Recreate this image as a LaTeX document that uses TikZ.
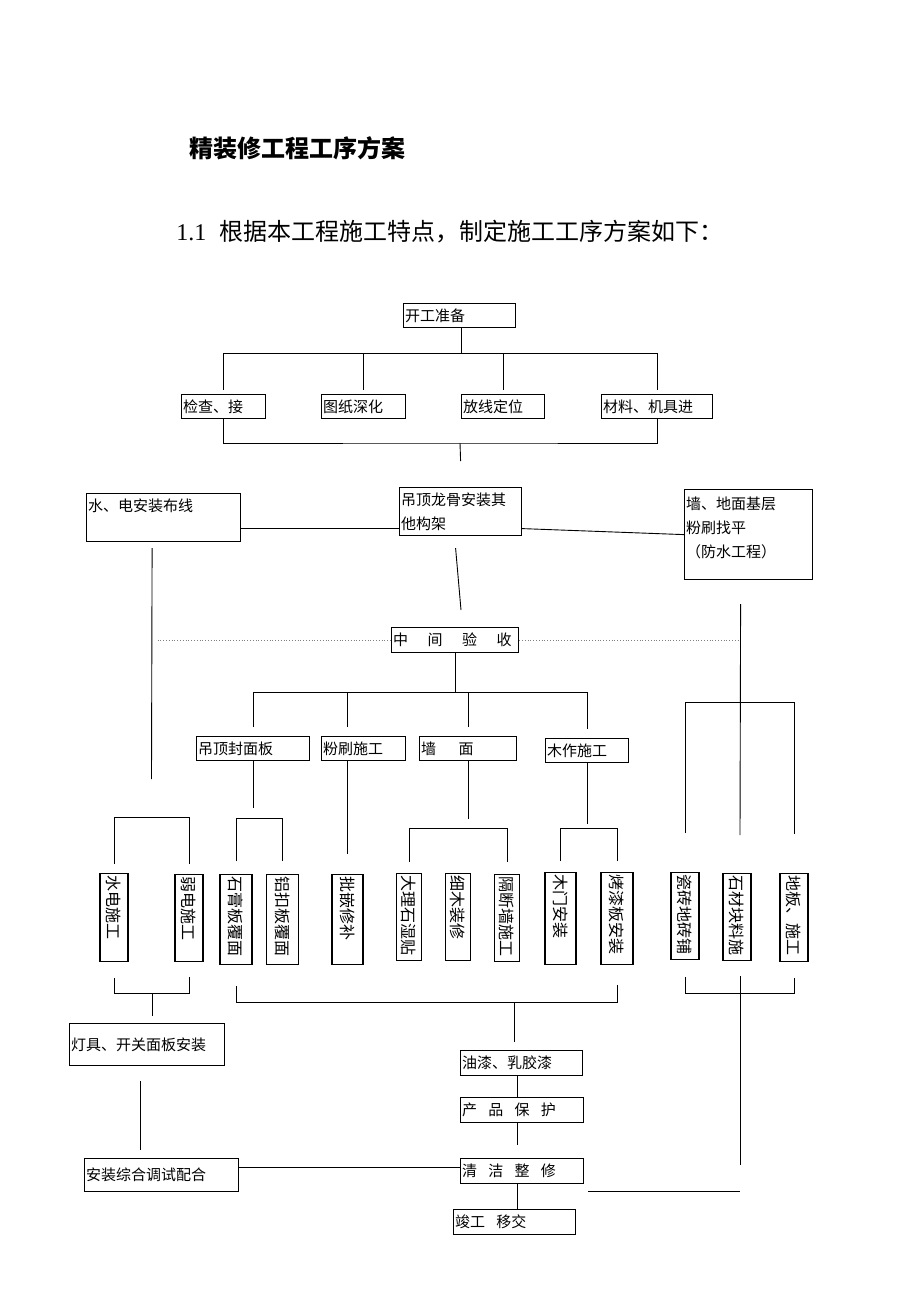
\documentclass[tikz,border=0pt]{standalone}
\usepackage{fontspec}
\setmainfont{Liberation Serif}
\newfontfamily\cjk{Noto Sans CJK SC}
\usetikzlibrary{calc}

\begin{document}
\begin{tikzpicture}[x=1pt, y=-1pt, line width=0.9pt,
    box/.style={draw, line width=1.2pt, anchor=north west, inner sep=1.5pt, align=left, font=\cjk\fontsize{15}{24}\selectfont},
    vbox/.style={draw, line width=1.2pt, rotate=-90, anchor=west, inner sep=1.5pt, align=left, font=\cjk\fontsize{16}{18}\selectfont},
    gapline/.style={dotted, gray, line width=0.8pt}]
    \useasboundingbox (0,0) rectangle (920,1302);

    % Heading
    \node[anchor=west, inner sep=0pt, font=\cjk\bfseries\fontsize{24}{28}\selectfont] (title) at (189,148) {精装修工程工序方案};
    \node[anchor=west, inner sep=0pt, font=\fontsize{24}{28}\selectfont] (intro) at (176,232) {1.1\hspace{0.55em}{\cjk 根据本工程施工特点，制定施工工序方案如下：}};

    % Nodes
    \node[box, text width=109pt, minimum height=24pt] (kaigong) at (403,303) {开工准备};
    \node[box, text width=81pt, minimum height=24pt] (jiancha) at (181,394) {检查、接};
    \node[box, text width=81pt, minimum height=24pt] (tuzhi) at (321,394) {图纸深化};
    \node[box, text width=80pt, minimum height=24pt] (fangxian) at (461,394) {放线定位};
    \node[box, text width=108pt, minimum height=24pt] (cailiao) at (601,394) {材料、机具进};

    \node[box, text width=151pt, minimum height=48pt] (shuidian) at (86,493) {水、电安装布线\\\mbox{}};
    \node[box, text width=119pt, minimum height=48pt] (longgu) at (399,487) {吊顶龙骨安装其\\他构架};
    \node[box, text width=125pt, minimum height=90pt] (jiceng) at (684,489) {墙、地面基层\\粉刷找平\\（防水工程）\\[-10pt]\mbox{}};
    \node[box, text width=124pt, minimum height=25pt] (yanshou) at (391,627) {中\hspace{1.3em}间\hspace{1.3em}验\hspace{1.3em}收};

    \node[box, text width=110pt, minimum height=24pt] (fengmian) at (196,736) {吊顶封面板};
    \node[box, text width=81pt, minimum height=24pt] (fenshua) at (321,736) {粉刷施工};
    \node[box, text width=94pt, minimum height=24pt] (qiangmian) at (419,736) {墙\hspace{1.5em}面};
    \node[box, text width=80pt, minimum height=24pt] (muzuo) at (545,738) {木作施工};

    \foreach \nm/\x/\y/\len/\thk/\txt in {
        shuidiansg/114/873/85/28/水电施工, ruodian/189/874/84/28/弱电施工,
        shigao/236/874/87/32/石膏板覆面, lvkou/282.5/874/87/32/铝扣板覆面,
        pibo/347.5/874/87/31/批嵌修补, dali/409/873/84/25/大理石湿贴,
        ximu/458/873/84/25/细木装修, geduan/507/874/84/25/隔断墙施工,
        mumen/560.5/872/89/31/木门安装, kaoqi/617/872/89/32/烤漆板安装,
        cizhuan/685/872/84/28/瓷砖地砖铺, shicai/737/873/84/28/石材块料施,
        diban/794/873/85/28/地板、施工}
        \node[vbox, text width=\len pt, minimum height=\thk pt] (\nm) at (\x,\y) {\txt};

    \node[box, text width=152pt, minimum height=42pt] (dengju) at (69,1023) {灯具、开关面板安装};
    \node[box, text width=119pt, minimum height=25pt] (youqi) at (460,1050) {油漆、乳胶漆};
    \node[box, text width=120pt, minimum height=25pt] (baohu) at (460,1097) {产\hspace{0.75em}品\hspace{0.75em}保\hspace{0.75em}护};
    \node[box, text width=151pt, minimum height=33pt] (tiaoshi) at (84,1158) {安装综合调试配合};
    \node[box, text width=120pt, minimum height=25pt] (qingjie) at (460,1158) {清\hspace{0.75em}洁\hspace{0.75em}整\hspace{0.75em}修};
    \node[box, text width=119pt, minimum height=25pt] (jungong) at (453,1209) {竣工\hspace{0.75em}移交};

    % Junctions and loose ends
    \coordinate (topbus) at (461,353);
    \coordinate (midbus) at (460,443);
    \coordinate (sdend) at (151.5,779);
    \coordinate (lgend) at (461,610);
    \coordinate (jcend) at (740,835);
    \coordinate (lowbus) at (455,692);
    \coordinate (rbus) at (740,702);
    \coordinate (sdbus) at (152,817);
    \coordinate (fmbus) at (258,818);
    \coordinate (qmbus) at (460,828);
    \coordinate (mzbus) at (588,828);
    \coordinate (sdlow) at (152.7,993);
    \coordinate (ztlow) at (514.3,1002);
    \coordinate (rlow) at (740,993);
    \coordinate (rend) at (740,1165);
    \coordinate (bend) at (588,1191);
    \coordinate (col) at (517,1080);
    \coordinate (tsj) at ([yshift=8pt]tiaoshi.east);

    % Edges
    \draw (kaigong.south -| topbus) -- (topbus);
    \draw (jiancha.north |- topbus) -- (cailiao.north |- topbus);
    \foreach \n in {jiancha,tuzhi,fangxian,cailiao}
        \draw (\n.north |- topbus) -- ([yshift=4pt]\n.north);
    \draw (jiancha.south) |- (midbus) -| (cailiao.south);
    \draw (midbus) -- ([yshift=26pt]longgu.north);

    \draw ([yshift=-11pt]shuidian.east) -- ([yshift=-17pt]longgu.west);
    \draw ([yshift=-17pt]longgu.east) -- (jiceng.west);
    \draw ([xshift=-11.5pt, yshift=-6pt]shuidian.south) -- (sdend);
    \draw ([xshift=-5pt, yshift=-12pt]longgu.south) -- (lgend);
    \draw ([xshift=-8pt, yshift=-24pt]jiceng.south) -- (jcend);
    \draw[gapline] ($(sdend |- yanshou.west)+(6,0)$) -- (yanshou.west);
    \draw[gapline] (yanshou.east) -- (yanshou.east -| jcend);

    \draw (yanshou.south) -- (yanshou.south |- lowbus);
    \draw (fengmian.north |- lowbus) -- (muzuo.north |- lowbus);
    \foreach \n in {fengmian,qiangmian,muzuo}
        \draw (\n.north |- lowbus) -- ([yshift=9pt]\n.north);
    \draw (pibo.west |- lowbus) -- ($(pibo.west |- fenshua.north)+(0,-9)$);
    \draw ([yshift=39pt]cizhuan.west) |- (rbus) -| ([yshift=39pt]diban.west);

    \draw ([yshift=9pt]shuidiansg.west) |- (sdbus) -| ([yshift=10pt]ruodian.west);
    \draw (fengmian.south) -- ($(fengmian.south)+(0,47)$);
    \draw ([yshift=13pt]shigao.west) |- (fmbus) -| ([yshift=13pt]lvkou.west);
    \draw (fenshua.south -| pibo.west) -- ([yshift=20pt]pibo.west);
    \draw (qiangmian.south) -- ($(qiangmian.south)+(0,58)$);
    \draw ([yshift=11pt]dali.west) |- (qmbus) -| ([yshift=12pt]geduan.west);
    \draw (muzuo.south) -- ($(muzuo.south)+(0,61)$);
    \draw ([yshift=11pt]mumen.west) |- (mzbus) -| ([yshift=11pt]kaoqi.west);

    \draw ([yshift=-16pt]shuidiansg.east) |- (sdlow) -| ([yshift=-15pt]ruodian.east);
    \draw (sdlow) -- ($(sdlow |- dengju.north)+(0,-7)$);
    \draw ([yshift=-21pt]shigao.east) |- (ztlow) -| ([yshift=-20pt]kaoqi.east);
    \draw (ztlow) -- ($(ztlow |- youqi.north)+(0,-8)$);
    \draw ([yshift=-17pt]cizhuan.east) |- (rlow) -| ([yshift=-16pt]diban.east);
    \draw ($(rlow)+(0,-17)$) -- (rend);
    \draw (bend) -- (bend -| rend);

    \draw ($(dengju.south)+(-6.5,15)$) -- ($(tiaoshi.north)+(-21,-8)$);
    \draw (youqi.south -| col) -- (baohu.north -| col);
    \draw (baohu.south -| col) -- ($(qingjie.north -| col)+(0,-13)$);
    \draw (tsj) -- (tsj -| qingjie.west);
    \draw (qingjie.south -| col) -- (jungong.north -| col);
\end{tikzpicture}
\end{document}
